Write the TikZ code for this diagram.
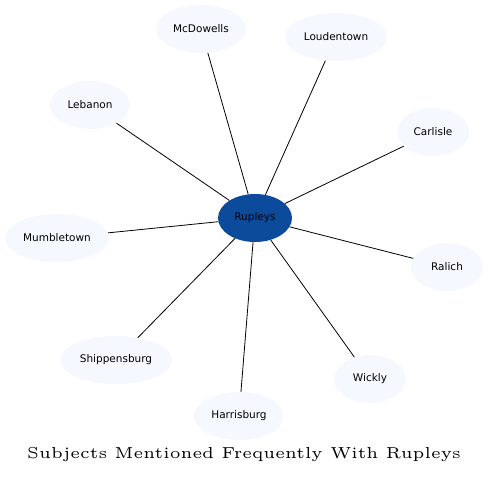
\documentclass[tikz,border=0pt]{standalone}
\usepackage{fontspec}
\newfontfamily\labelfont{DejaVu Sans}
\newfontfamily\titlefont{lmroman5-regular.otf}
\usetikzlibrary{shapes.geometric}
\definecolor{outerfill}{RGB}{245,248,255}
\definecolor{centerfill}{RGB}{12,75,155}
\begin{document}
\begin{tikzpicture}[x=1pt,y=-1pt,
  leaf/.style={ellipse,fill=outerfill,draw=none,inner sep=0pt,font=\labelfont\fontsize{10.5}{12}\selectfont},
  hub/.style={ellipse,fill=centerfill,draw=none,inner sep=0pt,font=\labelfont\fontsize{10.5}{12}\selectfont},
  link/.style={draw=black,line width=0.8pt}]
\useasboundingbox (0,0) rectangle (489,477);
\node[hub,minimum width=74pt,minimum height=48pt] (rup) at (255,218) {Rupleys};
\node[leaf,minimum width=90pt,minimum height=48pt] (mcd) at (201,29) {McDowells};
\node[leaf,minimum width=102pt,minimum height=48pt] (lou) at (336,37) {Loudentown};
\node[leaf,minimum width=80pt,minimum height=48pt] (leb) at (90,105) {Lebanon};
\node[leaf,minimum width=72pt,minimum height=48pt] (car) at (433,132) {Carlisle};
\node[leaf,minimum width=104pt,minimum height=48pt] (mum) at (57,238) {Mumbletown};
\node[leaf,minimum width=72pt,minimum height=48pt] (ral) at (447,267) {Ralich};
\node[leaf,minimum width=112pt,minimum height=48pt] (shi) at (116,360) {Shippensburg};
\node[leaf,minimum width=72pt,minimum height=48pt] (wic) at (370,379) {Wickly};
\node[leaf,minimum width=90pt,minimum height=48pt] (har) at (239,416) {Harrisburg};
\foreach \n in {mcd,lou,leb,car,mum,ral,shi,wic,har}
  \draw[link] (rup) -- (\n);
\node[font=\titlefont\fontsize{15.9}{18}\selectfont] (title) at (244,455) {Subjects Mentioned Frequently With Rupleys};
\end{tikzpicture}
\end{document}
